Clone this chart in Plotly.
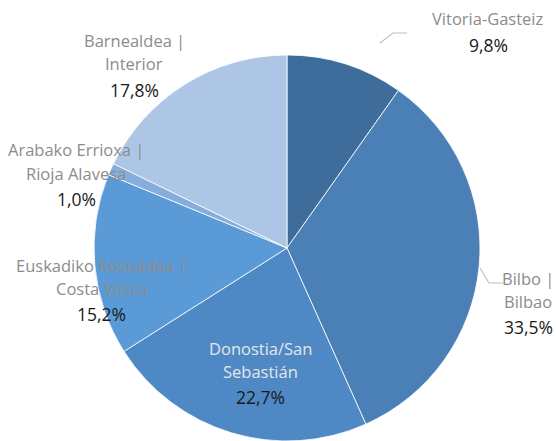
import plotly.graph_objects as go

W, H = 556, 441

categories = ["Vitoria-Gasteiz", "Bilbo | Bilbao", "Donostia/San Sebastián",
              "Euskadiko Kostaldea | Costa Vasca", "Arabako Errioxa | Rioja Alavesa",
              "Barnealdea | Interior"]
values = [9.8, 33.5, 22.7, 15.2, 1.0, 17.8]
name_lines = [["Vitoria-Gasteiz"], ["Bilbo |", "Bilbao"], ["Donostia/San", "Sebastián"],
              ["Euskadiko Kostaldea |", "Costa Vasca"], ["Arabako Errioxa |", "Rioja Alavesa"],
              ["Barnealdea |", "Interior"]]
pct_text = [f"{v:.1f}%".replace(".", ",") for v in values]

colors = ["#3F6D9B", "#4A80B6", "#4F89C5", "#5A9AD6", "#85ADDD", "#ADC6E6"]
name_colors = ["#8C8C8C", "#8C8C8C", "#E6E6E6", "#8C8C8C", "#8C8C8C", "#8C8C8C"]

# label layout (pixel positions: center x, first line y)
label_pos = [(488, 19), (528, 278), (260, 348), (101, 265), (76, 150), (134, 41)]
line_step = 23

def px(x):
    return x / W

def py(y):
    return 1 - y / H

cx, cy, r = 287, 248, 193

fig = go.Figure(go.Pie(
    labels=categories, values=values, sort=False, direction="clockwise", rotation=0,
    marker=dict(colors=colors, line=dict(color="white", width=0.8)),
    textinfo="none", hoverinfo="label+percent", showlegend=False,
    domain=dict(x=[px(cx - r), px(cx + r)], y=[py(cy + r), py(cy - r)]),
))

annotations = []
for lines, pct, (lx, ly), nc in zip(name_lines, pct_text, label_pos, name_colors):
    y = ly
    for ln in lines:
        annotations.append(dict(x=px(lx), y=py(y), xref="paper", yref="paper", text=ln,
                                showarrow=False, xanchor="center", yanchor="middle",
                                font=dict(family="Open Sans", size=16.5, color=nc)))
        y += line_step
    annotations.append(dict(x=px(lx), y=py(y + 3), xref="paper", yref="paper", text=pct,
                            showarrow=False, xanchor="center", yanchor="middle",
                            font=dict(family="Open Sans", size=17.5, color="#1a1a1a")))

leader_lines = [
    [(380, 43), (393, 33), (407, 33)],
    [(480, 268), (489, 283), (503, 283)],
]
shapes = []
for pts in leader_lines:
    path = "M " + " L ".join(f"{px(x)},{py(y)}" for x, y in pts)
    shapes.append(dict(type="path", path=path, xref="paper", yref="paper",
                       line=dict(color="#BFBFBF", width=1.2)))

fig.update_layout(width=W, height=H, margin=dict(l=0, r=0, t=0, b=0),
                  paper_bgcolor="white", plot_bgcolor="white",
                  annotations=annotations, shapes=shapes)

fig.write_html("out.html", config={"displayModeBar": False},
               post_script="document.body.style.margin='0';document.body.style.overflow='hidden';")
